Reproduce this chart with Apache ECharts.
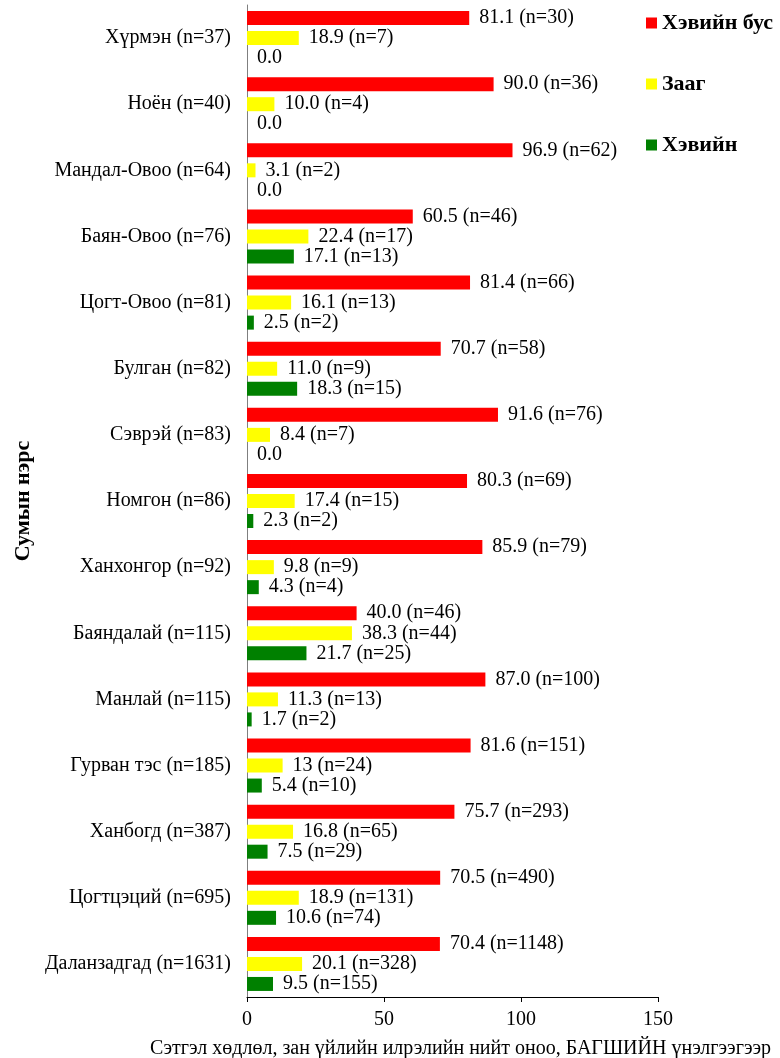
<!DOCTYPE html>
<html>
<head>
<meta charset="utf-8">
<script src="https://cdn.jsdelivr.net/npm/echarts@6/dist/echarts.min.js"></script>
<style>
  html, body { margin: 0; padding: 0; background: #fff; }
  #main { width: 780px; height: 1058px; }
</style>
</head>
<body>
<div id="main"></div>
<script>
// сумын нэрс, дээрээс доош
let soums = ['Хүрмэн (n=37)','Ноён (n=40)','Мандал-Овоо (n=64)','Баян-Овоо (n=76)','Цогт-Овоо (n=81)',
    'Булган (n=82)','Сэврэй (n=83)','Номгон (n=86)','Ханхонгор (n=92)','Баяндалай (n=115)',
    'Манлай (n=115)','Гурван тэс (n=185)','Ханбогд (n=387)','Цогтцэций (n=695)','Даланзадгад (n=1631)'];

let legend = ['Хэвийн бус','Зааг','Хэвийн'];
let colors = ['#ff0000','#ffff00','#008000'];

// хувь (шошгон дээр харагдах байдлаар)
let abnormal = ['81.1','90.0','96.9','60.5','81.4','70.7','91.6','80.3','85.9','40.0','87.0','81.6','75.7','70.5','70.4'];
let borderline = ['18.9','10.0','3.1','22.4','16.1','11.0','8.4','17.4','9.8','38.3','11.3','13','16.8','18.9','20.1'];
let normal = ['0.0','0.0','0.0','17.1','2.5','18.3','0.0','2.3','4.3','21.7','1.7','5.4','7.5','10.6','9.5'];

// хүүхдийн тоо
let abnormalN = [30,36,62,46,66,58,76,69,79,46,100,151,293,490,1148];
let borderlineN = [7,4,2,17,13,9,7,15,9,44,13,24,65,131,328];
let normalN = [0,0,0,13,2,15,0,2,4,25,2,10,29,74,155];

let xTicks = {min:0, max:150, interval:50};

let myChart = echarts.init(document.getElementById('main'));
let serif = '"Liberation Serif", "DejaVu Serif", serif';

let values = [abnormal, borderline, normal];
let counts = [abnormalN, borderlineN, normalN];

myChart.setOption({
    animation:false,
    textStyle:{fontFamily:serif},
    legend:{
        data:legend,
        orient:'vertical',
        left:641,
        top:7,
        itemGap:39,
        itemWidth:11,
        itemHeight:11,
        icon:'rect',
        textStyle:{fontFamily:serif, fontSize:22, fontWeight:'bold', color:'#000', lineHeight:22}
    },
    grid:{left:247, right:122, top:5, bottom:61, containLabel:false, outerBoundsMode:'none'},
    xAxis:{
        type:'value',
        min:xTicks.min,
        max:xTicks.max,
        interval:xTicks.interval,
        splitLine:{show:false},
        axisLine:{show:true, lineStyle:{color:'#000', width:1}},
        axisTick:{show:true, length:5, lineStyle:{color:'#000'}},
        axisLabel:{fontFamily:serif, fontSize:20, color:'#000', margin:13},
        name:'Сэтгэл хөдлөл, зан үйлийн илрэлийн нийт оноо, БАГШИЙН үнэлгээгээр',
        nameLocation:'middle',
        nameGap:42,
        nameTextStyle:{fontFamily:serif, fontSize:20, color:'#000', padding:[0,0,0,16]}
    },
    yAxis:{
        type:'category',
        data:soums,
        inverse:true,
        axisLine:{show:true, lineStyle:{color:'#7f7f7f', width:1}},
        axisTick:{show:false},
        axisLabel:{fontFamily:serif, fontSize:20, color:'#000', margin:16},
        name:'Сумын нэрс',
        nameLocation:'middle',
        nameRotate:90,
        nameGap:201,
        nameTextStyle:{fontFamily:serif, fontSize:22, fontWeight:'bold', color:'#000'}
    },
    series:legend.map((name, i) => ({
        name:name,
        type:'bar',
        barWidth:14,
        barGap:'43%',
        itemStyle:{color:colors[i]},
        data:values[i],
        label:{
            show:true,
            position:'right',
            distance:10,
            fontFamily:serif,
            fontSize:20,
            color:'#000',
            formatter:(p) => {
                let n = counts[i][p.dataIndex];
                let txt = values[i][p.dataIndex];
                return n === 0 ? txt : txt + ' (n=' + n + ')';
            }
        }
    }))
});
</script>
</body>
</html>
